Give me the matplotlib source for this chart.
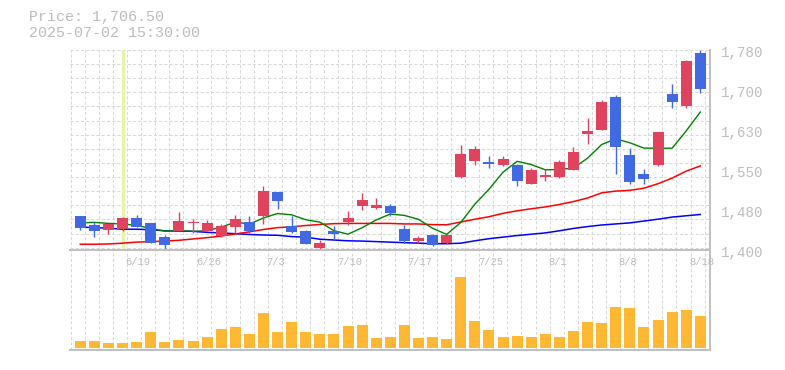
import matplotlib
matplotlib.use("Agg")
import matplotlib.pyplot as plt
import matplotlib.transforms as mtransforms
import numpy as np

# ---------------- data ----------------
dates = ["6/13", "6/16", "6/17", "6/18", "6/19", "6/20", "6/23", "6/24", "6/25", "6/26",
         "6/27", "6/30", "7/1", "7/2", "7/3", "7/4", "7/7", "7/8", "7/9", "7/10",
         "7/11", "7/14", "7/15", "7/16", "7/17", "7/18", "7/22", "7/23", "7/24", "7/25",
         "7/28", "7/29", "7/30", "7/31", "8/1", "8/4", "8/5", "8/6", "8/7", "8/8",
         "8/12", "8/13", "8/14", "8/15", "8/18"]

opens = [1465, 1448, 1439, 1440, 1462, 1452, 1425, 1436.5, 1452, 1437,
         1428, 1445, 1453, 1466, 1510.6, 1446, 1436.5, 1405, 1436.5, 1453.6,
         1484.6, 1481, 1484, 1440, 1418, 1429, 1414.4, 1539, 1569, 1567.5,
         1562, 1562, 1526, 1539, 1539, 1552, 1621, 1629, 1690, 1581,
         1545, 1562, 1696.5, 1674, 1774]
highs = [1465, 1454, 1450, 1463, 1467, 1452, 1429, 1472.6, 1459, 1457,
         1450, 1467, 1465, 1522, 1511, 1465, 1438, 1419.5, 1446, 1474.5,
         1508.7, 1499, 1488, 1448, 1427, 1430, 1431, 1600, 1598, 1579,
         1579, 1563, 1557, 1554, 1571, 1596, 1651, 1685, 1694, 1593.5,
         1554, 1624, 1715.5, 1761.6, 1780]
lows = [1439, 1426, 1431, 1436.5, 1445, 1414, 1400, 1436.5, 1432, 1437,
        1426, 1432, 1432, 1449, 1479, 1432, 1412.5, 1402, 1419.5, 1448,
        1477, 1479, 1465, 1413, 1414, 1408, 1412, 1537, 1562, 1557,
        1559, 1522.5, 1526, 1532, 1538, 1552, 1602, 1629, 1545, 1526,
        1526, 1560.5, 1670.5, 1670.5, 1699]
closes = [1443, 1436.5, 1450, 1462, 1445, 1414, 1411, 1455.5, 1454, 1452,
          1447, 1459, 1436.5, 1512.5, 1494, 1434.6, 1412.5, 1414, 1431, 1461,
          1495.4, 1486.5, 1470, 1418, 1424, 1410, 1429, 1582.7, 1592, 1564.3,
          1573, 1532, 1552, 1542, 1567.5, 1586.5, 1626, 1681, 1596.5, 1530,
          1536, 1624, 1682, 1760, 1706.5]

ma_short = [1452, 1453, 1451, 1450, 1447.3, 1441.5, 1436.4, 1437.5, 1435.9, 1437.3,
            1443.9, 1453.5, 1449.7, 1461.4, 1469.8, 1467.3, 1458.0, 1453.5, 1437.2, 1430.6,
            1442.8, 1457.6, 1468.8, 1466.2, 1458.8, 1441.7, 1430.2, 1452.7, 1487.5, 1515.6,
            1548.2, 1568.8, 1562.7, 1552.7, 1553.3, 1556.0, 1574.8, 1600.6, 1611.5, 1604.0,
            1593.9, 1593.5, 1593.7, 1626.4, 1662.3]
ma_mid = [1411.5, 1411.5, 1412, 1413.5, 1415.5, 1416.5, 1417.5, 1419, 1421.5, 1424,
          1427, 1431, 1435, 1439.5, 1443, 1444.5, 1447, 1449, 1450.5, 1451,
          1451, 1451, 1451, 1450, 1450, 1448.7, 1448.4, 1453.7, 1458.9, 1463.7,
          1470.1, 1474.9, 1478.8, 1482.3, 1486.9, 1492.5, 1499.2, 1509.0, 1512.3, 1513.8,
          1517.8, 1526.3, 1537.0, 1550.2, 1560]
ma_long = [1444, 1443, 1442, 1440, 1440, 1439, 1437, 1436.5, 1436, 1434,
           1433, 1431.5, 1430, 1429, 1428.5, 1426, 1425, 1421, 1419.5, 1418,
           1417.5, 1416.5, 1415.5, 1414.5, 1413.5, 1412.5, 1412.5, 1413.5, 1418, 1422,
           1425, 1428, 1430.5, 1433, 1437, 1441.5, 1445, 1448, 1450, 1452,
           1455.5, 1459, 1463, 1465.5, 1468]
volume = [7300, 7300, 5300, 5300, 6300, 16300, 6300, 8300, 7300, 11300,
          19300, 21300, 14300, 35300, 16300, 26300, 16300, 14300, 14300, 22300,
          23300, 10300, 11300, 23300, 10300, 11300, 9300, 71300, 27300, 18300,
          11300, 12300, 11300, 14300, 11300, 17300, 26300, 25300, 41300, 40300,
          21300, 28300, 36300, 38300, 32300]

label_idx = [4, 9, 14, 19, 24, 29, 34, 39, 44]
ytick_values = [1400, 1476, 1552, 1628, 1704, 1780]
cursor_idx = 3
header_price = "Price: 1,706.50"
header_time = "2025-07-02 15:30:00"

# ---------------- style ----------------
UP = "#e0435e"
DOWN = "#4169e1"
VOL = "#ffb833"
GRID = "#d9d9d9"
BORDER = "#c0c0c0"
TEXT = "#bdbdbd"
FONT = "Liberation Mono"

W, H = 785, 370
fig = plt.figure(figsize=(W / 100, H / 100), dpi=100)

def px_axes(x0, y0, x1, y1):
    return fig.add_axes([x0 / W, 1 - y1 / H, (x1 - x0) / W, (y1 - y0) / H])

ax = px_axes(70, 50, 710, 250.3)
axv = px_axes(70, 250.3, 710, 350)

n = len(closes)
x = np.arange(n)
xlim = (-0.731, 44.69)

for a in (ax, axv):
    a.set_xlim(*xlim)
    a.set_xticks([])
    a.set_yticks([])
    for s in a.spines.values():
        s.set_visible(False)
    for gx in np.arange(-1, n) + 0.31:
        a.axvline(gx, color=GRID, lw=0.75, ls=(0, (3, 2)), zorder=0)
    a.patch.set_alpha(0)

ax.set_ylim(1400, 1780)
for gy in np.linspace(1780, 1404.9, 15):
    ax.axhline(gy, color=GRID, lw=0.75, ls=(0, (3, 2)), zorder=0)

# borders
ax.spines["right"].set_visible(True)
ax.spines["right"].set_color(BORDER)
ax.spines["bottom"].set_visible(True)
ax.spines["bottom"].set_color(BORDER)
ax.spines["bottom"].set_linewidth(1.4)
ax.spines["right"].set_linewidth(1.4)
for sp in ("right", "bottom", "top"):
    axv.spines[sp].set_visible(True)
    axv.spines[sp].set_color(BORDER)
    axv.spines[sp].set_linewidth(1.4)

# cursor highlight
ax.axvline(cursor_idx, color="#e6f4a8", lw=2.3, zorder=1)

# moving averages
ax.plot(x, ma_long, color="#0000ff", lw=1.1, zorder=2)
ax.plot(x, ma_mid, color="#ff0000", lw=1.1, zorder=2)
ax.plot(x, ma_short, color="#008000", lw=1.0, zorder=2)

# candles
o = np.array(opens); c = np.array(closes)
cols = [UP if cc >= oo else DOWN for oo, cc in zip(o, c)]
bottoms = np.minimum(o, c)
heights = np.maximum(np.abs(c - o), 1.9)
ax.vlines(x, lows, highs, colors=cols, lw=1.0, zorder=3)
ax.bar(x, heights, bottom=bottoms, width=0.78, color=cols, linewidth=0, zorder=4)

# volume
axv.set_ylim(-2000, 98300)
axv.bar(x, volume, width=0.78, color=VOL, linewidth=0, zorder=3)

# date labels (left aligned, drawn over the right border for the last one)
dtr = mtransforms.blended_transform_factory(axv.transData, axv.transAxes)
for i in label_idx:
    axv.text(i - 0.78, 0.885, dates[i], transform=dtr, ha="left", va="center",
             fontsize=7.6, family=FONT, color=TEXT, zorder=5, clip_on=False)

# y labels on the right
off = mtransforms.ScaledTranslation(0, -3 / 100, fig.dpi_scale_trans)
btr = mtransforms.blended_transform_factory(ax.transAxes, ax.transData) + off
for v in ytick_values:
    ax.text(1.0167, v, f"{round(v, -1):,.0f}", transform=btr, ha="left", va="center",
            fontsize=10.2, family=FONT, color=TEXT, clip_on=False)

# header
fig.text(29 / W, 1 - 17 / H, header_price, ha="left", va="center", fontsize=10.8, family=FONT, color=TEXT)
fig.text(29 / W, 1 - 33 / H, header_time, ha="left", va="center", fontsize=10.8, family=FONT, color=TEXT)

fig.savefig("out.png", dpi=100)
